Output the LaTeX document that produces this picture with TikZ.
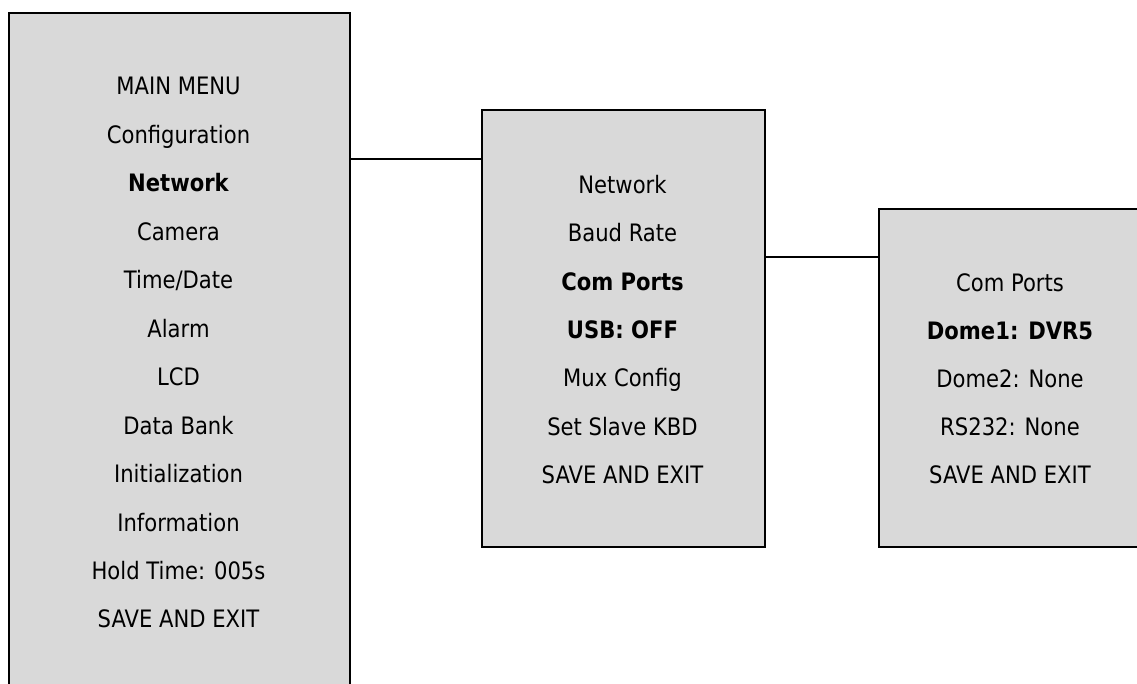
\documentclass[tikz,border=0pt]{standalone}
\usepackage{fontspec}
\setmainfont{DejaVu Sans}[FakeStretch=0.88]
\definecolor{boxgray}{HTML}{D9D9D9}
\begin{document}
\begin{tikzpicture}[x=1pt,y=-1pt,
  menubox/.style={draw=black, line width=2pt, fill=boxgray, rectangle, inner sep=0pt, anchor=north west},
  item/.style={anchor=base, inner sep=0pt, font=\fontsize{24}{28}\selectfont},
  sel/.style={item, font=\fontsize{24}{28}\selectfont\bfseries},
  link/.style={draw=black, line width=2pt}]
\useasboundingbox (0,0) rectangle (1137,684);
\clip (0,0) rectangle (1137,684);
% boxes
\node[menubox, minimum width=341pt, minimum height=700pt] (lbox) at (8,12) {};
\node[menubox, minimum width=283pt, minimum height=437pt] (mbox) at (481,109) {};
\node[menubox, minimum width=270pt, minimum height=338pt] (rbox) at (878,208) {};
% left menu
\node[item] (l0) at (178.5,95) {MAIN MENU};
\node[item] (l1) at (178.5,143.45) {Configuration};
\node[sel]  (l2) at (178.5,191.9) {Network};
\node[item] (l3) at (178.5,240.35) {Camera};
\node[item] (l4) at (178.5,288.8) {Time/Date};
\node[item] (l5) at (178.5,337.25) {Alarm};
\node[item] (l6) at (178.5,385.7) {LCD};
\node[item] (l7) at (178.5,434.15) {Data Bank};
\node[item] (l8) at (178.5,482.6) {Initialization};
\node[item] (l9) at (178.5,531.05) {Information};
\node[item] (l10) at (178.5,579.5) {Hold Time: 005s};
\node[item] (l11) at (178.5,627.95) {SAVE AND EXIT};
% middle menu
\node[item] (m0) at (622.5,193.3) {Network};
\node[item] (m1) at (622.5,241.7) {Baud Rate};
\node[sel]  (m2) at (622.5,290.1) {Com Ports};
\node[sel]  (m3) at (622.5,338.5) {USB: OFF};
\node[item] (m4) at (622.5,386.9) {Mux Config};
\node[item] (m5) at (622.5,435.3) {Set Slave KBD};
\node[item] (m6) at (622.5,483.7) {SAVE AND EXIT};
% right menu
\node[item] (r0) at (1010,291.5) {Com Ports};
\node[sel]  (r1) at (1010,339.6) {Dome1: DVR5};
\node[item] (r2) at (1010,387.7) {Dome2: None};
\node[item] (r3) at (1010,435.8) {RS232: None};
\node[item] (r4) at (1010,483.9) {SAVE AND EXIT};
% connectors
\coordinate (c1) at (0,159);
\coordinate (c2) at (0,257);
\draw[link] (lbox.east |- c1) -- (mbox.west |- c1);
\draw[link] (mbox.east |- c2) -- (rbox.west |- c2);
\end{tikzpicture}
\end{document}
